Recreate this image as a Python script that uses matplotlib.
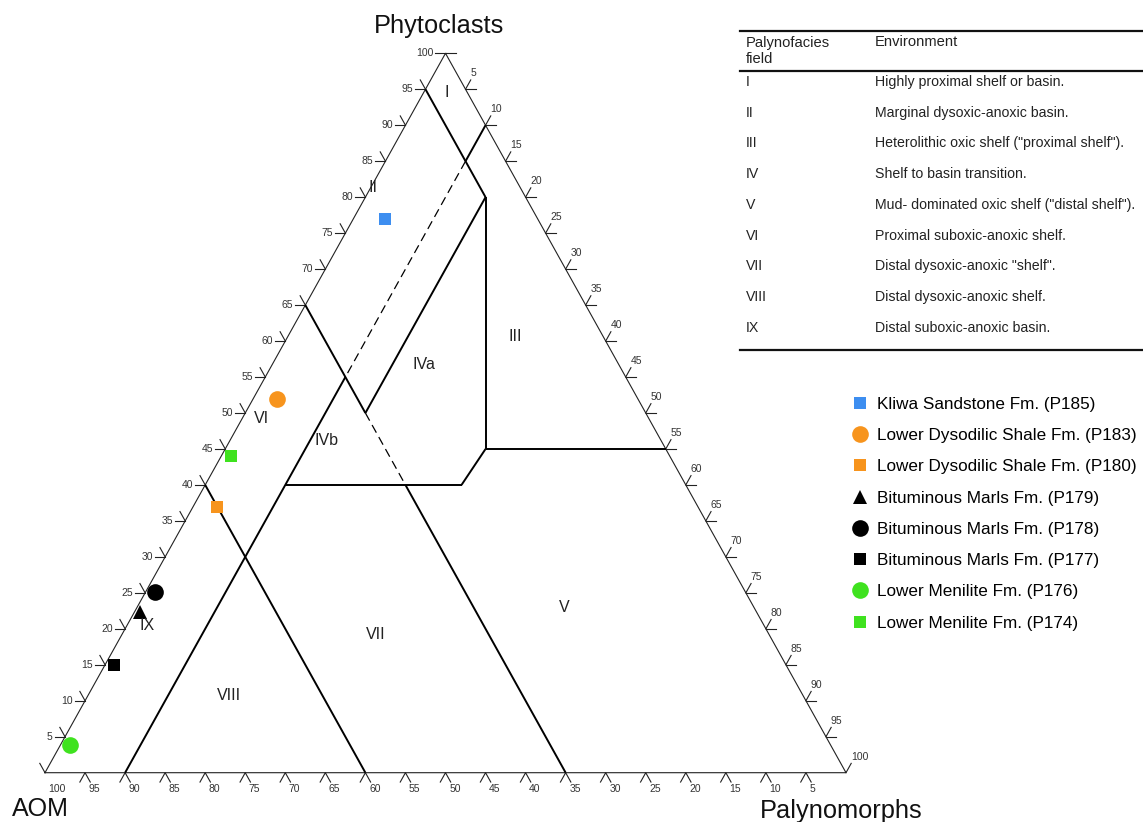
import matplotlib
matplotlib.use('Agg')
import matplotlib.pyplot as plt
import numpy as np

plt.rcParams['font.family'] = ['Liberation Sans', 'DejaVu Sans']

# samples, composition in % (AOM, phytoclasts, palynomorphs)
sample_labels = ['Kliwa Sandstone Fm. (P185)', 'Lower Dysodilic Shale Fm. (P183)',
                 'Lower Dysodilic Shale Fm. (P180)', 'Bituminous Marls Fm. (P179)',
                 'Bituminous Marls Fm. (P178)', 'Bituminous Marls Fm. (P177)',
                 'Lower Menilite Fm. (P176)', 'Lower Menilite Fm. (P174)']
sample_aom = [19.0, 45.0, 60.0, 77.0, 73.7, 83.9, 94.9, 54.8]
sample_phyto = [77.0, 52.0, 37.0, 22.4, 25.1, 15.0, 3.9, 44.0]
sample_palyno = [4.0, 3.0, 3.0, 0.6, 1.2, 1.1, 1.2, 1.2]
sample_colors = ['#3d8ef0', '#f7941d', '#f7941d', 'black', 'black', 'black', '#3fe21f', '#3fe21f']
sample_markers = ['s', 'o', 's', '^', 'o', 's', 'o', 's']

# palynofacies field boundaries (Tyson), endpoints as (AOM, phyto, palyno)
bounds_solid = [
    ((5, 95, 0), (5, 80, 15)),
    ((0, 90, 10), (5, 85, 10)),
    ((35, 55, 10), (90, 0, 10)),
    ((5, 80, 15), (35, 50, 15)),
    ((35, 65, 0), (35, 50, 15)),
    ((35, 40, 25), (35, 0, 65)),
    ((5, 80, 15), (22.5, 45, 32.5)),
    ((22.5, 45, 32.5), (0, 45, 55)),
    ((22.5, 45, 32.5), (28, 40, 32)),
    ((50, 40, 10), (28, 40, 32)),
    ((60, 40, 0), (60, 0, 40)),
]
bounds_dashed = [
    ((5, 85, 10), (35, 55, 10)),
    ((35, 50, 15), (35, 40, 25)),
]

field_names = ['I', 'II', 'III', 'IVa', 'IVb', 'V', 'VI', 'VII', 'VIII', 'IX']
field_pos = [(2.5, 94.6, 2.9), (18.4, 81.4, 0.2), (10.9, 60.7, 28.4), (24.3, 56.7, 19.0),
             (41.7, 46.2, 12.1), (23.7, 23.0, 53.3), (48.3, 49.3, 2.4), (49.1, 19.2, 31.7),
             (71.7, 10.7, 17.6), (77.1, 20.4, 2.5)]

table_fields = ['I', 'II', 'III', 'IV', 'V', 'VI', 'VII', 'VIII', 'IX']
table_envs = ['Highly proximal shelf or basin.',
              'Marginal dysoxic-anoxic basin.',
              'Heterolithic oxic shelf ("proximal shelf").',
              'Shelf to basin transition.',
              'Mud- dominated oxic shelf ("distal shelf").',
              'Proximal suboxic-anoxic shelf.',
              'Distal dysoxic-anoxic "shelf".',
              'Distal dysoxic-anoxic shelf.',
              'Distal suboxic-anoxic basin.']

tick_vals = list(range(5, 101, 5))


def tern(a, p, m):
    s = a + p + m
    p = 100.0 * p / s
    m = 100.0 * m / s
    return m + p / 2.0, p


W, H = 1143, 822
fig = plt.figure(figsize=(W / 100, H / 100), dpi=100)
ax = fig.add_axes([0, 0, 1, 1])
sx, sy = 8.01, 7.194
x0, y0 = 45, 772.7
ax.set_xlim(-x0 / sx, (W - x0) / sx)
ax.set_ylim((y0 - H) / sy, y0 / sy)
ax.axis('off')

ec = '#222222'
ax.plot([0, 50, 100, 0], [0, 100, 0, 0], color=ec, lw=0.8)

L = 1.3
tfs = 7.5
tc = '#333333'
# left axis: phytoclasts
for p in [0] + tick_vals:
    x, y = tern(100 - p, p, 0)
    if p > 0:
        ax.plot([x - L, x], [y, y], color=ec, lw=0.8)
        ax.text(x - L - 0.25, y, str(p), ha='right', va='center', fontsize=tfs, color=tc)
    if p < 100:
        ax.plot([x, x - 0.5 * L], [y, y + L], color=ec, lw=0.8)
# right axis: palynomorphs
for m in [0] + tick_vals:
    x, y = tern(0, 100 - m, m)
    if m < 100:
        ax.plot([x, x + L], [y, y], color=ec, lw=0.8)
    if m > 0:
        ax.plot([x, x + 0.5 * L], [y, y + L], color=ec, lw=0.8)
        ax.text(x + 0.6, y + 2.2, str(m), ha='left', va='center', fontsize=tfs, color=tc)
# bottom axis: AOM
for a in tick_vals:
    x, y = tern(a, 0, 100 - a)
    if a < 100:
        ax.plot([x - 0.5 * L, x, x + 0.5 * L], [-L, 0, -L], color=ec, lw=0.8)
    ax.text(x + 0.45, -2.2, str(a), ha='left', va='center', fontsize=tfs, color=tc)

for (s, e) in bounds_solid:
    xs, ys = zip(tern(*s), tern(*e))
    ax.plot(xs, ys, color='black', lw=1.4, solid_capstyle='butt')
for (s, e) in bounds_dashed:
    xs, ys = zip(tern(*s), tern(*e))
    ax.plot(xs, ys, color='black', lw=0.9, dashes=(7, 4))

for name, pos in zip(field_names, field_pos):
    x, y = tern(*pos)
    ax.text(x, y, name, ha='center', va='center', fontsize=11.5, color='#222222')

msize = {'o': 12, 's': 8.5, '^': 9.5}
handles = []
for i in range(len(sample_labels)):
    x, y = tern(sample_aom[i], sample_phyto[i], sample_palyno[i])
    h, = ax.plot([x], [y], linestyle='none', marker=sample_markers[i],
                 markersize=msize[sample_markers[i]], color=sample_colors[i],
                 markeredgewidth=0, label=sample_labels[i])
    handles.append(h)

ax.legend(handles=handles, loc='upper left', bbox_to_anchor=(851 / W, 1 - 397 / H),
          bbox_transform=fig.transFigure, frameon=False, fontsize=12.3,
          handlelength=1.0, handletextpad=0.5, labelspacing=0.95,
          borderpad=0, borderaxespad=0)

# overlay in pixel coordinates for titles and table
ov = fig.add_axes([0, 0, 1, 1])
ov.set_xlim(0, W)
ov.set_ylim(H, 0)
ov.axis('off')
ov.patch.set_visible(False)

ov.text(439, 26, 'Phytoclasts', ha='center', va='center', fontsize=18.3, color='#111111')
ov.text(40, 809, 'AOM', ha='center', va='center', fontsize=18, color='#111111')
ov.text(841, 811, 'Palynomorphs', ha='center', va='center', fontsize=18.3, color='#111111')

tl, tr = 740, 1143
for yy in [31.5, 71.5, 350]:
    ov.plot([tl, tr], [yy, yy], color='#111111', lw=1.6)
ov.text(746, 51, 'Palynofacies\nfield', ha='left', va='center', fontsize=10.6,
        color='#222222', linespacing=1.25)
ov.text(875, 42, 'Environment', ha='left', va='center', fontsize=10.6, color='#222222')
for i, (f, env) in enumerate(zip(table_fields, table_envs)):
    yy = 82 + 30.7 * i
    ov.text(746, yy, f, ha='left', va='center', fontsize=10.2, color='#222222')
    ov.text(875, yy, env, ha='left', va='center', fontsize=10.2, color='#222222')

fig.savefig('out.png', dpi=100)
